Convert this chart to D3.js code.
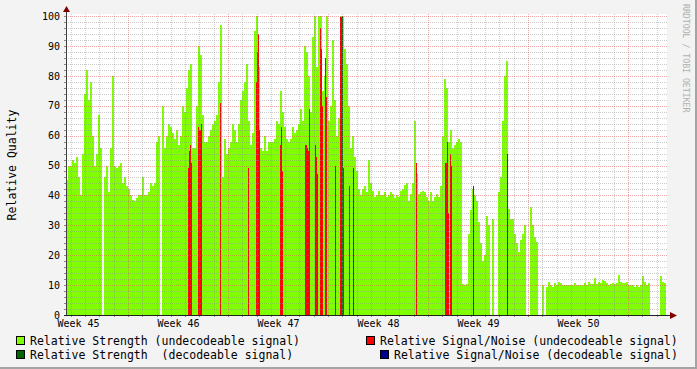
<!DOCTYPE html>
<html>
<head>
<meta charset="utf-8">
<script src="https://cdn.jsdelivr.net/npm/d3@7"></script>
<style>
  body { margin: 0; background: #f3f3f3; }
  text { font-family: "DejaVu Sans Mono", monospace; }
</style>
</head>
<body>
<svg id="chart" width="697" height="369"></svg>
<script>
// labels / ticks
var weekLabels = ["Week 45", "Week 46", "Week 47", "Week 48", "Week 49", "Week 50"];
var yTicks = [0, 10, 20, 30, 40, 50, 60, 70, 80, 90, 100];

// time model: days after Monday 00:00 of week 45
var startDay = 2.66;   // first sample
var slotDays = 0.07;   // one slot (~1.7h)
var greenStep = 2;     // strength (undecodeable) is stored per 2 slots

// Relative Strength (undecodeable signal), one value per 2 slots
var strengthUndec = [
  45, 50, 50, 52, 51, 53, 46, 40, 54, 74, 82, 72, 78, 60, 50, 54, 67, 56, 0, 46,
  50, 41, 56, 80, 50, 49, 50, 51, 44, 46, 43, 42, 40, 38.5, 38, 39, 40, 40, 46, 40,
  40, 41, 44, 43, 44, 58, 60, 0, 70, 56, 60, 64, 63, 61, 59, 62, 57, 60, 70, 68,
  76, 82, 84, 56, 56, 70, 90, 87, 67, 58, 58, 60, 62, 64, 65, 67, 78, 97, 46, 59,
  54, 56, 58, 64, 62, 58, 64, 72, 75, 78, 84, 65, 57, 61, 95, 100, 83, 56, 55, 60,
  55, 58, 58, 58, 59, 65, 64, 75, 68, 63, 59, 58, 59, 63, 61, 62, 64, 69, 65, 90,
  88, 80, 68, 93, 100, 83, 100, 100, 75, 80, 100, 65, 70, 92, 72, 60, 66, 100, 100, 89,
  84, 70, 56, 60, 53, 48, 42, 40, 42, 43, 41, 52, 44, 41.5, 39.5, 40, 41.5, 40, 40, 41,
  39.6, 40, 41, 40.5, 39, 40, 39.5, 41.5, 42, 43.5, 44, 38, 40.5, 44, 65, 47, 40.5, 41, 41.5, 41,
  39.5, 38, 41, 38, 39.5, 40.5, 39.5, 43, 60, 79, 76, 58, 62, 56, 57, 58, 59, 58, 10.5, 10,
  10.5, 27, 35, 42, 40, 38, 31, 24, 18, 20, 33, 30, 0, 32, 0, 0, 41, 46, 65, 80,
  85, 35.5, 32, 32, 27, 24, 21, 25, 27, 30, 0, 0, 36, 30, 26, 24.5, 0, 0, 10, 0,
  9.5, 11, 10, 9.5, 10.6, 10, 11, 10.6, 10, 10, 10, 10, 10, 10, 10.6, 10, 10, 10, 10, 10.8,
  10, 11, 10.5, 10.5, 12.3, 10.4, 11, 10.6, 11.8, 11.5, 10.6, 10, 10.3, 10.6, 10.3, 10.6, 13.4, 11, 10.6, 10.6,
  11, 10, 10, 10, 9.3, 10, 9.5, 10, 13, 11, 10, 10.6, 0, 0, 0, 0, 0, 13, 11, 10.8
];

// Relative Signal/Noise (undecodeable signal): slot index and value
var snrUndecSlot = [122, 123, 124, 125, 132, 133, 134, 135, 154, 182, 190, 191, 192, 193,
  214, 215, 216, 239, 240, 241, 242, 243, 249, 250, 251, 254, 255, 256, 259, 260, 269,
  274, 275, 276, 277, 283, 287, 350, 379, 380, 381, 382, 384, 385, 407, 441];
var snrUndecVal = [49, 55, 57, 51, 63, 62, 62, 64, 71, 49, 78, 88, 94, 62,
  57, 63, 48, 57, 57, 56, 55, 69, 57, 53, 47, 96, 89, 70, 86, 73, 50,
  99.5, 99.5, 81, 49, 43, 49, 51, 51, 51, 58, 34, 54, 50, 42, 54];

// Relative Strength (decodeable signal): slot index and value
var strengthDecSlot = [276, 287, 407, 441];
var strengthDecVal = [100, 49, 43, 54];

// Relative Signal/Noise (decodeable signal): nothing in this period
var snrDecSlot = [];
var snrDecVal = [];

var colors = {
  strengthUndec: "#80ff00",
  snrUndec: "#ff0000",
  strengthDec: "#006400",
  snrDec: "#000090"
};

var W = 697, H = 369;
var svg = d3.select("#chart");

// background + 3d frame
svg.append("rect").attr("width", W).attr("height", H).attr("fill", "#f3f3f3");
svg.append("rect").attr("x", 0).attr("y", H - 2).attr("width", W).attr("height", 2).attr("fill", "#a4a4a4");
svg.append("rect").attr("x", W - 2).attr("y", 0).attr("width", 2).attr("height", H).attr("fill", "#a4a4a4");

var plotLeft = 66, plotRight = 666, plotTop = 16, plotBottom = 315;
var endDay = startDay + 600 * slotDays;

var x = d3.scaleLinear().domain([startDay, endDay]).range([plotLeft, plotRight]);
var y = d3.scaleLinear().domain([0, 100]).range([plotBottom, plotTop]);

// canvas
svg.append("rect")
    .attr("x", plotLeft).attr("y", plotTop - 2)
    .attr("width", plotRight - plotLeft + 1).attr("height", plotBottom - plotTop + 2)
    .attr("fill", "#ffffff");

function slotX(s) { return x(startDay + s * slotDays); }

// draws a set of bars, one per slot range
function drawBars(cls, slots, values, width, color) {
  svg.append("g")
      .attr("class", cls)
      .attr("shape-rendering", "crispEdges")
    .selectAll("rect")
    .data(values.map(function(v, i) { return {s: slots[i], v: v}; })
      .filter(function(d) { return d.v > 0; }))
    .enter().append("rect")
      .attr("x", function(d) { return Math.round(slotX(d.s)); })
      .attr("width", function(d) { return Math.round(slotX(d.s + width)) - Math.round(slotX(d.s)); })
      .attr("y", function(d) { return Math.round(y(d.v)); })
      .attr("height", function(d) { return plotBottom - Math.round(y(d.v)); })
      .attr("fill", color);
}

drawBars("strength-undec", strengthUndec.map(function(v, i) { return i * greenStep; }),
  strengthUndec, greenStep, colors.strengthUndec);
drawBars("snr-undec", snrUndecSlot, snrUndecVal, 1, colors.snrUndec);
drawBars("strength-dec", strengthDecSlot, strengthDecVal, 1, colors.strengthDec);
drawBars("snr-dec", snrDecSlot, snrDecVal, 1, colors.snrDec);

// grid (drawn over the data like rrdtool does)
var grid = svg.append("g").attr("class", "grid").attr("shape-rendering", "crispEdges");
var minorY = d3.range(2, 101, 2).filter(function(v) { return v % 10 !== 0; });
var majorY = yTicks.filter(function(v) { return v > 0; });
var days = d3.range(Math.ceil(startDay), endDay);
var minorX = days.filter(function(d) { return d % 7 !== 0; });
var majorX = days.filter(function(d) { return d % 7 === 0; });

function hLines(cls, data, stroke) {
  grid.selectAll("line." + cls).data(data).enter().append("line")
      .attr("class", cls)
      .attr("x1", plotLeft).attr("x2", plotRight + 1)
      .attr("y1", function(d) { return Math.round(y(d)) + 0.5; })
      .attr("y2", function(d) { return Math.round(y(d)) + 0.5; })
      .attr("stroke", stroke).attr("stroke-dasharray", "1,1");
}
function vLines(cls, data, stroke) {
  grid.selectAll("line." + cls).data(data).enter().append("line")
      .attr("class", cls)
      .attr("y1", plotTop - 2).attr("y2", plotBottom)
      .attr("x1", function(d) { return Math.round(x(d)) + 0.5; })
      .attr("x2", function(d) { return Math.round(x(d)) + 0.5; })
      .attr("stroke", stroke).attr("stroke-dasharray", "1,1");
}
hLines("minor-y", minorY, "rgba(140,140,140,0.45)");
vLines("minor-x", minorX, "rgba(140,140,140,0.45)");
hLines("major-y", majorY, "rgba(222,80,80,0.5)");
vLines("major-x", majorX, "rgba(222,80,80,0.5)");

// small tick marks on the axes
grid.selectAll("line.tick-y").data(d3.range(0, 101, 2)).enter().append("line")
    .attr("class", "tick-y")
    .attr("x1", plotLeft - 2).attr("x2", plotLeft)
    .attr("y1", function(d) { return Math.round(y(d)) + 0.5; })
    .attr("y2", function(d) { return Math.round(y(d)) + 0.5; })
    .attr("stroke", "#888");
grid.selectAll("line.tick-x").data(days).enter().append("line")
    .attr("class", "tick-x")
    .attr("y1", plotBottom).attr("y2", plotBottom + 2)
    .attr("x1", function(d) { return Math.round(x(d)) + 0.5; })
    .attr("x2", function(d) { return Math.round(x(d)) + 0.5; })
    .attr("stroke", "#888");

// axes lines + arrows
svg.append("line").attr("x1", plotLeft + 0.5).attr("x2", plotLeft + 0.5)
    .attr("y1", plotBottom + 1).attr("y2", 10)
    .attr("stroke", "#404040").attr("shape-rendering", "crispEdges");
svg.append("line").attr("x1", plotLeft - 2).attr("x2", 672)
    .attr("y1", plotBottom + 0.5).attr("y2", plotBottom + 0.5)
    .attr("stroke", "#212121").attr("shape-rendering", "crispEdges");
svg.append("path").attr("d", "M63,12 L70,12 L66.5,6 Z").attr("fill", "#800000");
svg.append("path").attr("d", "M670,312 L670,319 L677,315.5 Z").attr("fill", "#800000");

// y labels
var yAxis = d3.axisLeft(y).tickValues(yTicks).tickSize(0).tickPadding(6);
svg.append("g").attr("transform", "translate(" + plotLeft + ",0)").call(yAxis)
    .call(function(g) { g.select(".domain").remove(); })
    .selectAll("text").style("font-family", "DejaVu Sans Mono").style("font-size", "10px").attr("fill", "#000");

// week labels, centred in each week
var weekScale = d3.scaleLinear().domain([0, 6]).range([x(0), x(42)]);
var xAxis = d3.axisBottom(weekScale)
    .tickValues(weekLabels.map(function(d, i) { return i + 0.5; }))
    .tickFormat(function(d, i) { return weekLabels[i]; })
    .tickSize(0).tickPadding(5);
svg.append("g").attr("transform", "translate(0," + plotBottom + ")").call(xAxis)
    .call(function(g) { g.select(".domain").remove(); })
    .selectAll("text").style("font-family", "DejaVu Sans Mono").style("font-size", "10px").attr("fill", "#000");

// axis title
svg.append("text")
    .attr("transform", "translate(16,165) rotate(-90)")
    .attr("text-anchor", "middle")
    .style("font-size", "11.5px")
    .text("Relative Quality");

// watermark
svg.append("text")
    .attr("transform", "translate(683,4) rotate(90)")
    .style("font-size", "8.2px")
    .attr("fill", "#b0b0b0")
    .text("RRDTOOL / TOBI OETIKER");

// legend
var legend = [
  {label: "Relative Strength (undecodeable signal)", color: colors.strengthUndec, bx: 16, by: 336},
  {label: "Relative Signal/Noise (undecodeable signal)", color: colors.snrUndec, bx: 366, by: 336},
  {label: "Relative Strength  (decodeable signal)", color: colors.strengthDec, bx: 16, by: 350},
  {label: "Relative Signal/Noise (decodeable signal)", color: colors.snrDec, bx: 380, by: 350}
];
var lg = svg.append("g").selectAll("g").data(legend).enter().append("g");
lg.append("rect")
    .attr("x", function(d) { return d.bx + 0.5; })
    .attr("y", function(d) { return d.by + 0.5; })
    .attr("width", 8).attr("height", 8)
    .attr("fill", function(d) { return d.color; })
    .attr("stroke", "#000").attr("shape-rendering", "crispEdges");
lg.append("text")
    .attr("x", function(d) { return d.bx + 14; })
    .attr("y", function(d) { return d.by + 9; })
    .style("font-size", "11.5px")
    .style("white-space", "pre")
    .attr("xml:space", "preserve")
    .text(function(d) { return d.label; });
</script>
</body>
</html>
